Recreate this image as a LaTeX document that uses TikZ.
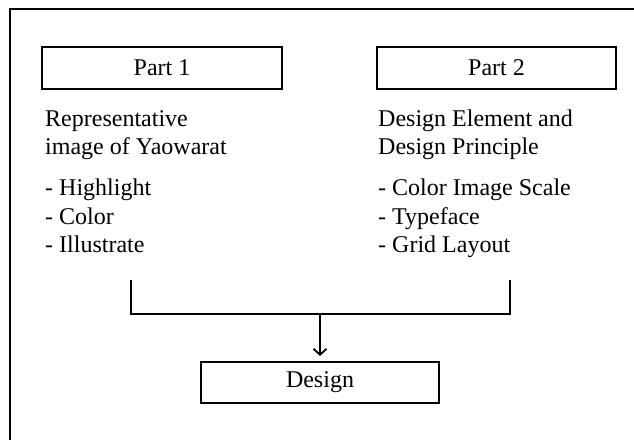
\documentclass[tikz,border=0pt]{standalone}
\usepackage{fontspec}
\setmainfont{Liberation Serif}
\usetikzlibrary{arrows.meta}
\begin{document}
\begin{tikzpicture}[x=1pt,y=-1pt,
  box/.style={draw,line width=2pt,minimum width=240pt,minimum height=42pt,inner sep=0pt,font=\fontsize{24}{28}\selectfont},
  txt/.style={anchor=base west,inner sep=0pt,font=\fontsize{24}{28}\selectfont},
  conn/.style={line width=1.6pt}]
\useasboundingbox (0,0) rectangle (634,439);
\fill[white] (0,0) rectangle (634,439);
\draw[line width=2pt] (10,440) -- (10,9) -- (635,9);
\node[box] (p1) at (162,68) {Part 1};
\node[box,minimum width=239pt] (p2) at (496.5,68) {Part 2};
\node[box,minimum width=238pt,minimum height=41pt] (d) at (320,382.5) {Design};
\node[txt] (a1) at (45,126) {Representative};
\node[txt] (a2) at (45,154) {image of Yaowarat};
\node[txt] (a3) at (45,195) {- Highlight};
\node[txt] (a4) at (45,224) {- Color};
\node[txt] (a5) at (45,252) {- Illustrate};
\node[txt] (b1) at (378,126) {Design Element and};
\node[txt] (b2) at (378,154) {Design Principle};
\node[txt] (b3) at (378,195) {- Color Image Scale};
\node[txt] (b4) at (378,224) {- Typeface};
\node[txt] (b5) at (378,252) {- Grid Layout};
\coordinate (l) at (131,280);
\coordinate (r) at (510,280);
\coordinate (m) at (320,314);
\draw[conn] (l) |- (m) -| (r);
\draw[conn,-{Straight Barb[length=6pt,width=13pt,line width=1.8pt]},shorten >=5pt] (m) -- (d.north);
\end{tikzpicture}
\end{document}
